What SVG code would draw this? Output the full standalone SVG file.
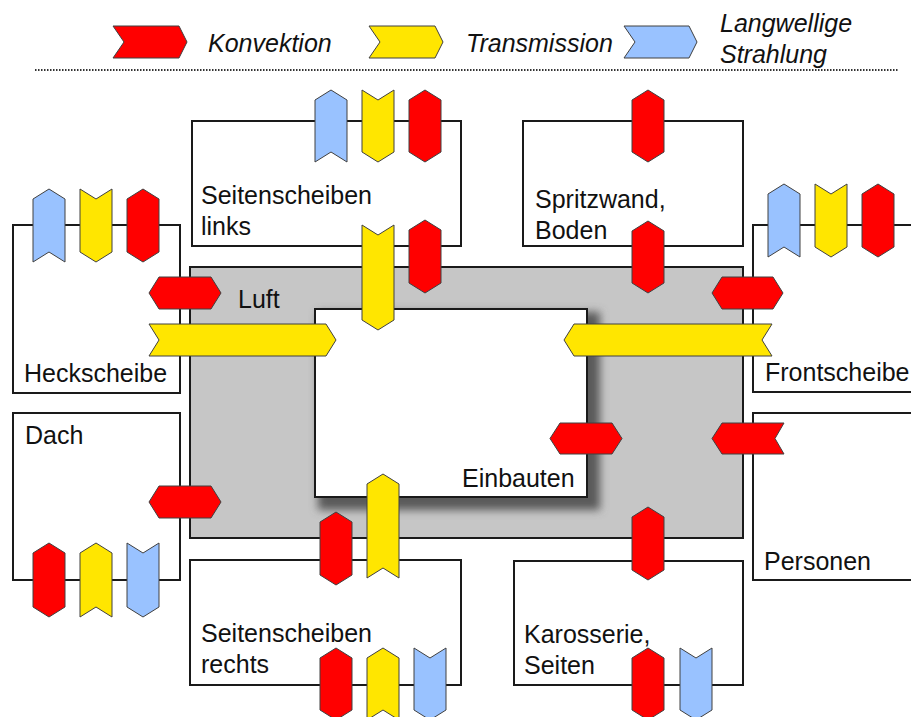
<svg xmlns="http://www.w3.org/2000/svg" width="911" height="717" viewBox="0 0 911 717">
<style>
.box{fill:#fff;stroke:#1a1a1a;stroke-width:2}
.t{font-family:"Liberation Sans",Arial,sans-serif;font-size:25px;fill:#111}
.lg{font-family:"Liberation Sans",Arial,sans-serif;font-size:25px;font-style:italic;fill:#111}
.r{fill:#ff0000;stroke:#404040;stroke-width:1}
.y{fill:#ffe600;stroke:#404040;stroke-width:1}
.b{fill:#99c2ff;stroke:#404040;stroke-width:1}
</style>
<defs>
<filter id="sh" x="-10%" y="-10%" width="120%" height="120%"><feGaussianBlur stdDeviation="4"/></filter>
</defs>
<rect width="911" height="717" fill="#fff"/>
<g id="legend">
<polygon class="r" points="113,26 179,26 187,42 179,58 113,58 124,42"/>
<text class="lg" x="208" y="52">Konvektion</text>
<polygon class="y" points="369,26 435,26 443,42 435,58 369,58 380,42"/>
<text class="lg" x="466" y="52">Transmission</text>
<polygon class="b" points="624,26 689,26 697,42 689,58 624,58 635,42"/>
<text class="lg" x="720" y="32">Langwellige</text>
<text class="lg" x="720" y="63">Strahlung</text>
<line x1="35" y1="70" x2="898" y2="70" stroke="#333" stroke-width="2" stroke-dasharray="1.5 1.5"/>
</g>
<g id="heckscheibe"><rect class="box" x="13" y="225" width="167" height="168"/><text class="t" x="24" y="382">Heckscheibe</text></g>
<g id="seitenscheiben-links"><rect class="box" x="192" y="121" width="269" height="125"/><text class="t" x="201" y="204">Seitenscheiben</text><text class="t" x="201" y="235">links</text></g>
<g id="spritzwand"><rect class="box" x="523" y="121" width="220" height="125"/><text class="t" x="535" y="208">Spritzwand,</text><text class="t" x="535" y="239">Boden</text></g>
<g id="frontscheibe"><rect class="box" x="753" y="225" width="200" height="167"/><text class="t" x="765" y="381">Frontscheibe</text></g>
<g id="dach"><rect class="box" x="13" y="413" width="167" height="167"/><text class="t" x="25" y="444">Dach</text></g>
<g id="personen"><rect class="box" x="753" y="413" width="200" height="167"/><text class="t" x="764" y="570">Personen</text></g>
<g id="seitenscheiben-rechts"><rect class="box" x="190" y="560" width="271" height="125"/><text class="t" x="201" y="642">Seitenscheiben</text><text class="t" x="201" y="673">rechts</text></g>
<g id="karosserie"><rect class="box" x="514" y="561" width="229" height="124"/><text class="t" x="524" y="643">Karosserie,</text><text class="t" x="524" y="674">Seiten</text></g>
<g id="luft"><rect x="190" y="267" width="553" height="271" fill="#c6c6c6" stroke="#1a1a1a" stroke-width="2"/><text class="t" x="238" y="308">Luft</text></g>
<g id="einbauten"><rect x="318" y="312" width="282" height="198" fill="#5a5a5a" filter="url(#sh)"/><rect class="box" x="315" y="309" width="272" height="188"/><text class="t" x="462" y="487">Einbauten</text></g>
<g id="connectors">
<polygon class="b" points="331,90 347,100 347,162 331,152 315,162 315,100"/>
<polygon class="y" points="362,90 378,100 394,90 394,152 378,162 362,152"/>
<polygon class="r" points="425,90 441,100 441,152 425,162 409,152 409,100"/>
<polygon class="y" points="362,225 378,235 394,225 394,320 378,330 362,320"/>
<polygon class="r" points="425,220 441,230 441,283 425,293 409,283 409,230"/>
<polygon class="b" points="49,189 65,199 65,262 49,252 33,262 33,199"/>
<polygon class="y" points="80,189 96,199 112,189 112,252 96,262 80,252"/>
<polygon class="r" points="143,189 159,199 159,252 143,262 127,252 127,199"/>
<polygon class="r" points="149,293 159,277 211,277 221,293 211,309 159,309"/>
<polygon class="y" points="149,324 326,324 336,340 326,356 149,356 159,340"/>
<polygon class="r" points="648,90 664,100 664,152 648,162 632,152 632,100"/>
<polygon class="r" points="648,221 664,231 664,283 648,293 632,283 632,231"/>
<polygon class="b" points="784,184 800,194 800,257 784,247 768,257 768,194"/>
<polygon class="y" points="815,184 831,194 847,184 847,247 831,257 815,247"/>
<polygon class="r" points="878,184 894,194 894,247 878,257 862,247 862,194"/>
<polygon class="r" points="712,293 722,277 773,277 783,293 773,309 722,309"/>
<polygon class="y" points="564,340 574,324 772,324 762,340 772,356 574,356"/>
<polygon class="r" points="550,438.5 560,423 612,423 622,438.5 612,454 560,454"/>
<polygon class="r" points="712,438.5 722,423 784,423 775,438.5 784,454 722,454"/>
<polygon class="r" points="149,502 159,486 211,486 221,502 211,518 159,518"/>
<polygon class="r" points="49,543 65,553 65,607 49,617 33,607 33,553"/>
<polygon class="y" points="96,543 112,553 112,617 96,607 80,617 80,553"/>
<polygon class="b" points="127,543 143,553 159,543 159,607 143,617 127,607"/>
<polygon class="r" points="336,512 352,522 352,575 336,585 320,575 320,522"/>
<polygon class="y" points="383,474 399,484 399,578 383,568 367,578 367,484"/>
<polygon class="r" points="336,648 352,658 352,710 336,720 320,710 320,658"/>
<polygon class="y" points="383,648 399,658 399,720 383,710 367,720 367,658"/>
<polygon class="b" points="414,648 430,658 446,648 446,710 430,720 414,710"/>
<polygon class="r" points="648,507 664,517 664,570 648,580 632,570 632,517"/>
<polygon class="r" points="648,648 664,658 664,710 648,720 632,710 632,658"/>
<polygon class="b" points="680,648 696,658 712,648 712,710 696,720 680,710"/>
</g>
</svg>
